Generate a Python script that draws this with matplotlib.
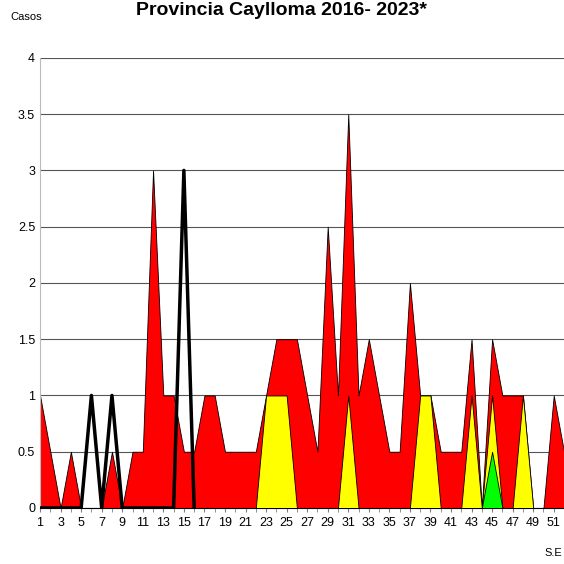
import numpy as np
import matplotlib.pyplot as plt

weeks = np.arange(1, 53)
epidemia = [1, 0.5, 0, 0.5, 0, 0, 0, 0.5, 0, 0.5, 0.5, 3, 1, 1, 0.5, 0.5, 1, 1, 0.5, 0.5,
            0.5, 0.5, 1, 1.5, 1.5, 1.5, 1, 0.5, 2.5, 1, 3.5, 1, 1.5, 1, 0.5, 0.5, 2, 1, 1, 0.5,
            0.5, 0.5, 1.5, 0, 1.5, 1, 1, 1, 0, 0, 1, 0.5]
alarma = [0] * 52
for w in (23, 24, 25, 31, 38, 39, 43, 45, 48):
    alarma[w - 1] = 1
seguridad = [0] * 52
seguridad[44] = 0.5
casos_2023 = [0, 0, 0, 0, 0, 1, 0, 1, 0, 0, 0, 0, 0, 0, 3, 0]

plt.rcParams['font.family'] = ['Liberation Sans Narrow', 'Liberation Sans', 'DejaVu Sans']
fig = plt.figure(figsize=(5.64, 5.64), dpi=100)
ax = fig.add_axes([0.071, 0.0993, 0.929, 0.798])

ax.fill_between(weeks, epidemia, color='#ff0000', edgecolor='black', linewidth=0.6, zorder=2)
ax.fill_between(weeks, alarma, color='#ffff00', edgecolor='black', linewidth=0.6, zorder=3)
ax.fill_between(weeks, seguridad, color='#00ff00', edgecolor='black', linewidth=0.6, zorder=4)
ax.plot(weeks[:len(casos_2023)], casos_2023, color='black', linewidth=2.5, zorder=5)

ax.set_xlim(1, 52)
ax.set_ylim(0, 4)
ax.set_yticks(np.arange(0, 4.01, 0.5))
ax.set_yticklabels(['0', '0.5', '1', '1.5', '2', '2.5', '3', '3.5', '4'], fontsize=9)
ax.set_xticks(weeks, minor=True)
ax.set_xticks(np.arange(1, 53, 2))
ax.set_xticklabels([str(w) for w in range(1, 53, 2)], fontsize=9)
ax.tick_params(axis='x', which='both', length=3, color='gray')
ax.tick_params(axis='y', length=0)
ax.grid(axis='y', color='#555555', linewidth=0.8, zorder=1)
for s in ('top', 'right'):
    ax.spines[s].set_visible(False)
ax.spines['left'].set_color('#bbbbbb')
ax.spines['bottom'].set_color('black')

fig.text(0.5, 0.982, 'Provincia Caylloma 2016- 2023*', ha='center', va='center',
         fontsize=14, fontweight='bold')
fig.text(0.018, 0.965, 'Casos', fontsize=8)
fig.text(0.965, 0.015, 'S.E', fontsize=8)

fig.savefig('out.png')
